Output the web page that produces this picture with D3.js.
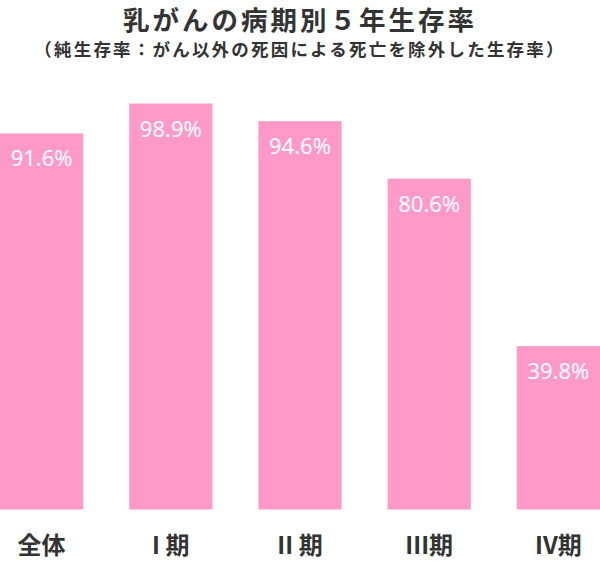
<!DOCTYPE html>
<html>
<head>
<meta charset="utf-8">
<script src="https://cdn.jsdelivr.net/npm/d3@7"></script>
<style>
  body { margin: 0; background: #fff; }
  svg { display: block; }
</style>
</head>
<body>
<div id="chart"></div>
<script>
// Data
var stages = ["全体", "Ⅰ期", "Ⅱ期", "Ⅲ期", "Ⅳ期"];
var stageLabels = ["全体", "I 期", "II 期", "III期", "IV期"];
var rates = [91.6, 98.9, 94.6, 80.6, 39.8];

var titleText = "乳がんの病期別５年生存率";
var subtitleText = "（純生存率：がん以外の死因による死亡を除外した生存率）";

var svgWidth = 600;
var svgHeight = 565;

var svg = d3.select("#chart")
  .append("svg")
  .attr("width", svgWidth)
  .attr("height", svgHeight);

var jpFont = "'Noto Sans CJK JP', 'Noto Sans', sans-serif";

// scales
var xScale = d3.scaleBand()
  .domain(stages)
  .range([0, 600])
  .paddingInner(0.356)
  .paddingOuter(0);

var yScale = d3.scaleLinear()
  .domain([0, 100])
  .range([509.5, 99]);

// title
svg.append("text")
  .attr("x", 300)
  .attr("y", 30)
  .attr("text-anchor", "middle")
  .style("font-family", jpFont)
  .style("font-weight", "bold")
  .style("font-size", "26.5px")
  .style("letter-spacing", "3px")
  .style("fill", "#333")
  .text(titleText);

svg.append("text")
  .attr("x", 300)
  .attr("y", 56)
  .attr("text-anchor", "middle")
  .style("font-family", jpFont)
  .style("font-weight", "bold")
  .style("font-size", "17.5px")
  .style("letter-spacing", "2.2px")
  .style("fill", "#333")
  .text(subtitleText);

// bars
svg.selectAll("rect.bar")
  .data(rates)
  .enter()
  .append("rect")
  .attr("class", "bar")
  .attr("x", (d, i) => xScale(stages[i]))
  .attr("y", d => yScale(d))
  .attr("width", xScale.bandwidth())
  .attr("height", d => yScale(0) - yScale(d))
  .attr("fill", "#ff99c8");

// value labels
svg.selectAll("text.value")
  .data(rates)
  .enter()
  .append("text")
  .attr("class", "value")
  .attr("x", (d, i) => xScale(stages[i]) + xScale.bandwidth() / 2)
  .attr("y", d => yScale(d) + 33)
  .attr("text-anchor", "middle")
  .style("font-family", "'Noto Sans', sans-serif")
  .style("font-size", "22px")
  .style("fill", "#fff")
  .text(d => d.toFixed(1) + "%");

// x axis labels
var xAxis = svg.append("g")
  .attr("transform", "translate(0, 509.5)")
  .call(d3.axisBottom(xScale).tickSize(0).tickPadding(0).tickFormat((d, i) => stageLabels[i]));

xAxis.select(".domain").remove();
xAxis.selectAll("text")
  .attr("y", 44)
  .attr("dy", null)
  .style("font-family", jpFont)
  .style("font-weight", "bold")
  .style("font-size", "24px")
  .style("fill", "#333");
</script>
</body>
</html>
